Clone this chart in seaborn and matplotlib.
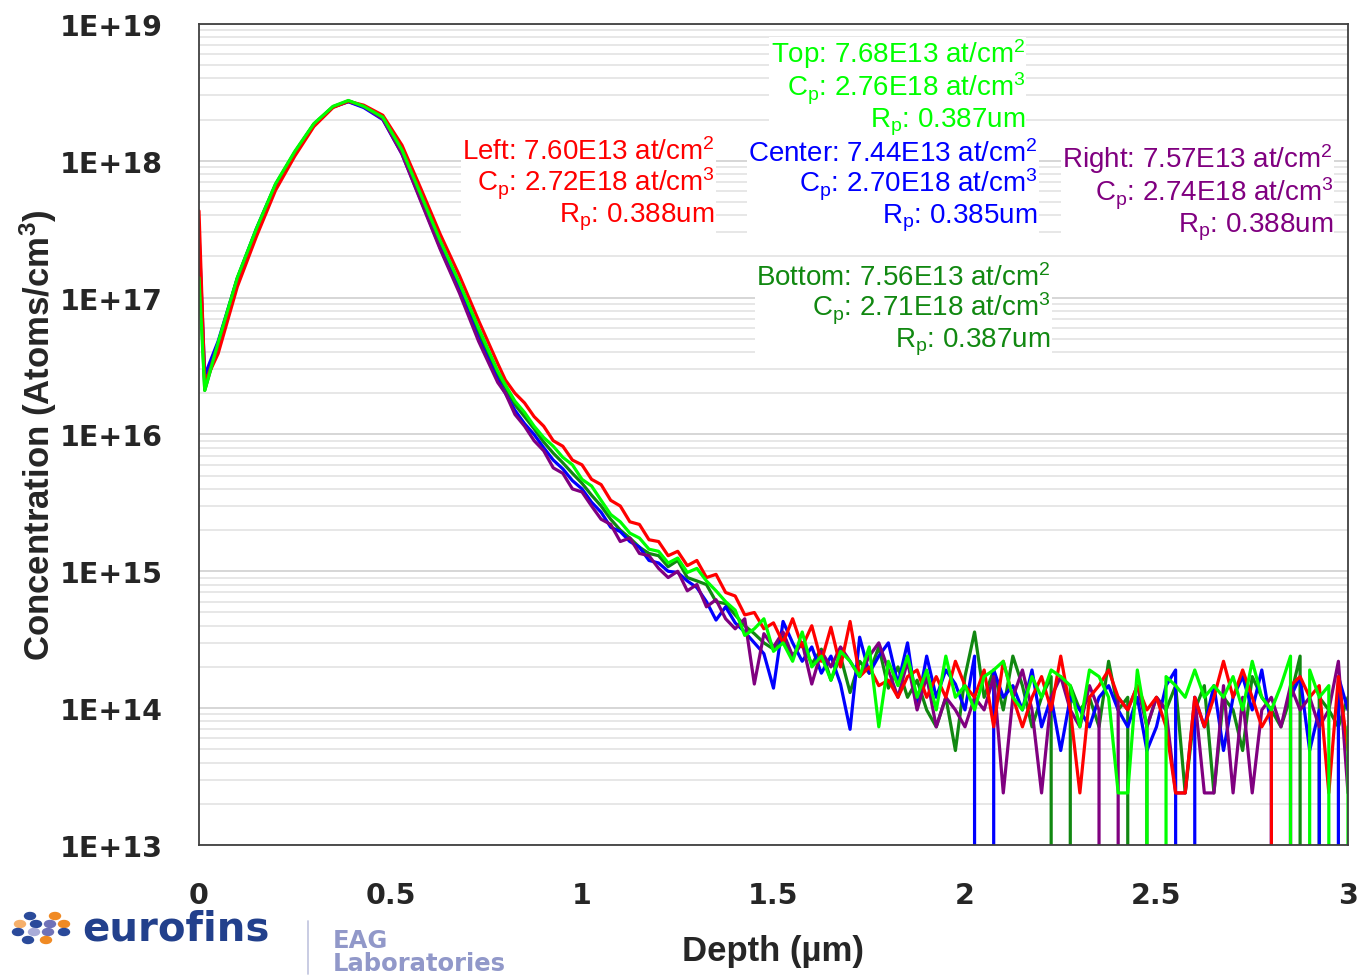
import numpy as np
import pandas as pd
import seaborn as sns
import matplotlib
matplotlib.use('Agg')
import matplotlib.pyplot as plt
from matplotlib.ticker import LogLocator, NullFormatter
from matplotlib.patches import Ellipse
from matplotlib.lines import Line2D

# 깊이 (um) - 피크 근처
depth_head = [0.0, 0.015, 0.05, 0.1, 0.15, 0.2, 0.25, 0.3, 0.35, 0.39,
              0.43, 0.48, 0.53, 0.58, 0.63, 0.68, 0.73, 0.78]
# 깊이 (um) - 꼬리 부분 (0.025 간격)
depth_tail = [0.8, 0.825, 0.85, 0.875, 0.9, 0.925, 0.95, 0.975,
              1.0, 1.025, 1.05, 1.075, 1.1, 1.125, 1.15, 1.175,
              1.2, 1.225, 1.25, 1.275, 1.3, 1.325, 1.35, 1.375,
              1.4, 1.425, 1.45, 1.475, 1.5, 1.525, 1.55, 1.575,
              1.6, 1.625, 1.65, 1.675, 1.7, 1.725, 1.75, 1.775,
              1.8, 1.825, 1.85, 1.875, 1.9, 1.925, 1.95, 1.975,
              2.0, 2.025, 2.05, 2.075, 2.1, 2.125, 2.15, 2.175,
              2.2, 2.225, 2.25, 2.275, 2.3, 2.325, 2.35, 2.375,
              2.4, 2.425, 2.45, 2.475, 2.5, 2.525, 2.55, 2.575,
              2.6, 2.625, 2.65, 2.675, 2.7, 2.725, 2.75, 2.775,
              2.8, 2.825, 2.85, 2.875, 2.9, 2.925, 2.95, 2.975,
              3.0]

# 피크 근처 농도 (atoms/cm3)
left_head = [4.3e17, 2.4e16, 3.9e16, 1.2e17, 2.8e17, 6.1e17, 1.08e18, 1.78e18, 2.45e18,
             2.72e18, 2.55e18, 2.15e18, 1.3e18, 6.2e17, 2.9e17, 1.45e17, 6.8e16, 3.3e16]
center_head = [3.0e17, 2.7e16, 4.8e16, 1.38e17, 3.2e17, 6.7e17, 1.15e18, 1.85e18, 2.47e18,
               2.70e18, 2.45e18, 2.0e18, 1.12e18, 5.1e17, 2.3e17, 1.12e17, 5.0e16, 2.5e16]
right_head = [2.6e17, 2.3e16, 4.6e16, 1.36e17, 3.1e17, 6.6e17, 1.14e18, 1.84e18, 2.48e18,
              2.74e18, 2.5e18, 2.02e18, 1.12e18, 5.0e17, 2.25e17, 1.08e17, 4.8e16, 2.4e16]
top_head = [1.4e17, 2.1e16, 4.7e16, 1.4e17, 3.2e17, 6.8e17, 1.17e18, 1.87e18, 2.5e18,
            2.76e18, 2.5e18, 2.08e18, 1.2e18, 5.6e17, 2.6e17, 1.28e17, 6.0e16, 2.9e16]
bottom_head = [2.0e17, 2.1e16, 4.6e16, 1.38e17, 3.15e17, 6.7e17, 1.15e18, 1.85e18, 2.48e18,
               2.71e18, 2.48e18, 2.05e18, 1.17e18, 5.4e17, 2.5e17, 1.22e17, 5.6e16, 2.7e16]

# 꼬리 부분 농도 (단위: 1E13 atoms/cm3, 0 = 검출한계 이하)
left_tail = [2500, 2000, 1700, 1350, 1150, 900, 820, 650,
             600, 470, 430, 330, 300, 230, 220, 170,
             165, 130, 140, 110, 120, 90, 95, 70,
             66, 48, 50, 38, 42, 30, 45, 28,
             40, 22, 39, 20, 43, 17, 20, 14.6,
             16, 12, 17, 19, 12, 17, 12, 22,
             14.6, 12, 19, 7.3, 22, 12, 7.3, 12,
             17, 9.7, 24, 9.7, 2.4, 12, 14.6, 19,
             12, 9.7, 14.6, 9.7, 12, 7.3, 2.4, 2.4,
             12, 7.3, 12, 22, 12, 19, 12, 7.3,
             9.7, 0, 14.6, 17, 12, 14.6, 2.4, 17,
             4.9]
center_tail = [2000, 1500, 1200, 1000, 800, 650, 560, 460,
               400, 320, 270, 210, 195, 165, 150, 120,
               115, 100, 98, 85, 76, 60, 44, 55,
               42, 36, 30, 25, 14, 43, 30, 22,
               28, 18, 24, 15, 7, 33, 18, 24,
               30, 15, 30, 10, 24, 12, 19, 15,
               9.7, 24, 0, 19, 12, 14.6, 9.7, 19,
               7.3, 12, 4.9, 12, 9.7, 7.3, 12, 14.6,
               9.7, 7.3, 12, 4.9, 7.3, 14.6, 19, 0,
               12, 7.3, 14.6, 4.9, 12, 17, 9.7, 19,
               7.3, 0, 12, 17, 4.9, 9.7, 0, 17,
               9.7]
right_tail = [2000, 1400, 1150, 900, 760, 570, 520, 400,
              380, 300, 240, 220, 165, 175, 135, 130,
              105, 90, 100, 72, 80, 55, 62, 45,
              38, 45, 15, 35, 28, 36, 24, 30,
              15, 26, 20, 28, 22, 17, 24, 30,
              19, 12, 22, 9.7, 17, 7.3, 12, 9.7,
              7.3, 12, 9.7, 17, 2.4, 12, 19, 9.7,
              2.4, 12, 17, 9.7, 7.3, 14.6, 9.7, 0,
              12, 9.7, 14.6, 7.3, 12, 9.7, 2.4, 2.4,
              12, 2.4, 2.4, 14.6, 2.4, 12, 2.4, 9.7,
              12, 7.3, 14.6, 9.7, 12, 7.3, 9.7, 22,
              2.4]
top_tail = [2300, 1750, 1450, 1150, 950, 820, 680, 600,
            470, 420, 330, 260, 230, 190, 175, 145,
            140, 115, 125, 98, 105, 85, 72, 60,
            52, 34, 38, 45, 26, 30, 22, 36,
            20, 24, 16, 26, 22, 17, 28, 7.3,
            22, 14.6, 24, 12, 19, 9.7, 24, 12,
            14.6, 9.7, 17, 19, 22, 12, 9.7, 17,
            12, 19, 17, 14.6, 7.3, 19, 17, 12,
            2.4, 2.4, 19, 7.3, 0, 17, 14.6, 12,
            19, 12, 14.6, 12, 17, 9.7, 22, 12,
            9.7, 14.6, 24, 0, 19, 12, 14.6, 0,
            7.3]
bottom_tail = [2200, 1650, 1350, 1100, 880, 730, 620, 520,
               440, 360, 300, 240, 200, 175, 150, 135,
               130, 108, 120, 90, 85, 80, 60, 58,
               48, 40, 35, 30, 27, 33, 24, 30,
               21, 27, 16, 24, 13, 22, 18, 28,
               14, 20, 12, 16, 9.7, 7.3, 12, 4.9,
               17, 36, 12, 19, 9.7, 24, 14.6, 7.3,
               12, 17, 0, 14.6, 9.7, 12, 7.3, 22,
               9.7, 12, 0, 7.3, 12, 9.7, 14.6, 2.4,
               9.7, 14.6, 2.4, 12, 9.7, 4.9, 17, 12,
               9.7, 7.3, 12, 24, 0, 12, 9.7, 7.3,
               12]

sites = ['Bottom', 'Center', 'Right', 'Left', 'Top']  # 그리는 순서
site_colors = {'Left': '#FF0000', 'Center': '#0000FF', 'Right': '#800080',
               'Top': '#00FF00', 'Bottom': '#118811'}

ytick_values = [1e13, 1e14, 1e15, 1e16, 1e17, 1e18, 1e19]
ytick_labels = ['1E+13', '1E+14', '1E+15', '1E+16', '1E+17', '1E+18', '1E+19']
xtick_values = [0, 0.5, 1, 1.5, 2, 2.5, 3]
xtick_labels = ['0', '0.5', '1', '1.5', '2', '2.5', '3']

# 주석 텍스트
notes = {
    'Top': 'Top: 7.68E13 at/cm$^{2}$\nC$_{p}$: 2.76E18 at/cm$^{3}$\nR$_{p}$: 0.387um',
    'Left': 'Left: 7.60E13 at/cm$^{2}$\nC$_{p}$: 2.72E18 at/cm$^{3}$\nR$_{p}$: 0.388um',
    'Center': 'Center: 7.44E13 at/cm$^{2}$\nC$_{p}$: 2.70E18 at/cm$^{3}$\nR$_{p}$: 0.385um',
    'Right': 'Right: 7.57E13 at/cm$^{2}$\nC$_{p}$: 2.74E18 at/cm$^{3}$\nR$_{p}$: 0.388um',
    'Bottom': 'Bottom: 7.56E13 at/cm$^{2}$\nC$_{p}$: 2.71E18 at/cm$^{3}$\nR$_{p}$: 0.387um',
}
note_pos = {'Top': (0.719, 0.985), 'Left': (0.449, 0.862), 'Center': (0.730, 0.860),
            'Right': (0.987, 0.857), 'Bottom': (0.741, 0.709)}

series = {
    'Left': (left_head, left_tail), 'Center': (center_head, center_tail),
    'Right': (right_head, right_tail), 'Top': (top_head, top_tail),
    'Bottom': (bottom_head, bottom_tail),
}

frames = []
for name, (head, tail) in series.items():
    frames.append(pd.DataFrame({
        'depth': depth_head + depth_tail,
        'conc': list(head) + [v * 1e13 for v in tail],
        'site': name,
    }))
df = pd.concat(frames, ignore_index=True)

sns.set_style('white')
plt.rcParams['font.family'] = ['DejaVu Sans']
plt.rcParams['mathtext.default'] = 'regular'

fig = plt.figure(figsize=(13.62, 9.78), dpi=100)
ax = fig.add_axes([0.1461, 0.135, 0.8436, 0.8395])

sns.lineplot(data=df, x='depth', y='conc', hue='site', hue_order=sites,
             palette=site_colors, estimator=None, sort=False, legend=False,
             linewidth=2.3, ax=ax)

ax.set_yscale('log', nonpositive='clip')
ax.set_ylim(1e13, 1e19)
ax.set_xlim(0, 3)

ax.set_yticks(ytick_values, ytick_labels, fontsize=20.5, fontweight='bold')
ax.set_xticks(xtick_values, xtick_labels, fontsize=20.5, fontweight='bold')
ax.yaxis.set_minor_locator(LogLocator(base=10, subs=np.arange(2, 10), numticks=100))
ax.yaxis.set_minor_formatter(NullFormatter())
ax.tick_params(axis='y', which='minor', length=0)
ax.tick_params(axis='y', which='major', direction='out', length=11, width=1.3,
               color='#404040', pad=15)
ax.tick_params(axis='x', which='major', direction='out', length=12, width=1.3,
               color='#404040', pad=14)

ax.set_axisbelow(True)
ax.grid(True, which='major', axis='y', color='#cfcfcf', linewidth=1.2)
ax.grid(True, which='minor', axis='y', color='#e0e0e0', linewidth=1.1)
ax.grid(False, axis='x')
for sp in ax.spines.values():
    sp.set_color('#404040')
    sp.set_linewidth(1.3)

label_font = ['Liberation Sans', 'DejaVu Sans']
ax.set_ylabel('Concentration (Atoms/cm$^{3}$)', fontsize=25, fontweight='bold',
              family=label_font, va='center')
ax.yaxis.set_label_coords(-0.140, 0.5)
ax.set_xlabel('Depth (µm)', fontsize=25, fontweight='bold', family=label_font, va='center')
ax.xaxis.set_label_coords(0.5, -0.129)

for name, text in notes.items():
    x, y = note_pos[name]
    ax.text(x, y, text, transform=ax.transAxes, ha='right', va='top',
            multialignment='right', fontsize=20, color=site_colors[name],
            family=['Liberation Sans', 'DejaVu Sans'], linespacing=0.98,
            bbox=dict(facecolor='white', edgecolor='none', pad=1))

# 로고 (eurofins | EAG Laboratories)
fig.text(82 / 1362, 1 - 930 / 978, 'eurofins', color='#22408c', fontsize=29,
         fontweight='bold', va='center', ha='left')
logo_dots = [(30, 917, '#2a4a9a'), (55, 917, '#f08a24'), (20, 925, '#f6b06a'),
             (36, 925, '#2a4a9a'), (50, 925, '#6f72b8'), (64, 925, '#f08a24'),
             (18, 933, '#2a4a9a'), (34, 933, '#a9acd8'), (48, 933, '#6f72b8'),
             (64, 933, '#2a4a9a'), (28, 941, '#2a4a9a'), (46, 941, '#f08a24')]
for px, py, c in logo_dots:
    fig.add_artist(Ellipse((px / 1362, 1 - py / 978), 11 / 1362, 7 / 978,
                           color=c, transform=fig.transFigure))
fig.add_artist(Line2D([308 / 1362, 308 / 1362], [1 - 922 / 978, 1 - 975 / 978],
                      color='#c5c8e0', linewidth=1.3, transform=fig.transFigure))
fig.text(333 / 1362, 1 - 941 / 978, 'EAG', color='#9198c9', fontsize=17.5,
         fontweight='bold', va='center', ha='left')
fig.text(333 / 1362, 1 - 976 / 978, 'Laboratories', color='#9198c9', fontsize=17.5,
         fontweight='bold', va='bottom', ha='left')

fig.savefig('out.png', dpi=100, facecolor='white')
